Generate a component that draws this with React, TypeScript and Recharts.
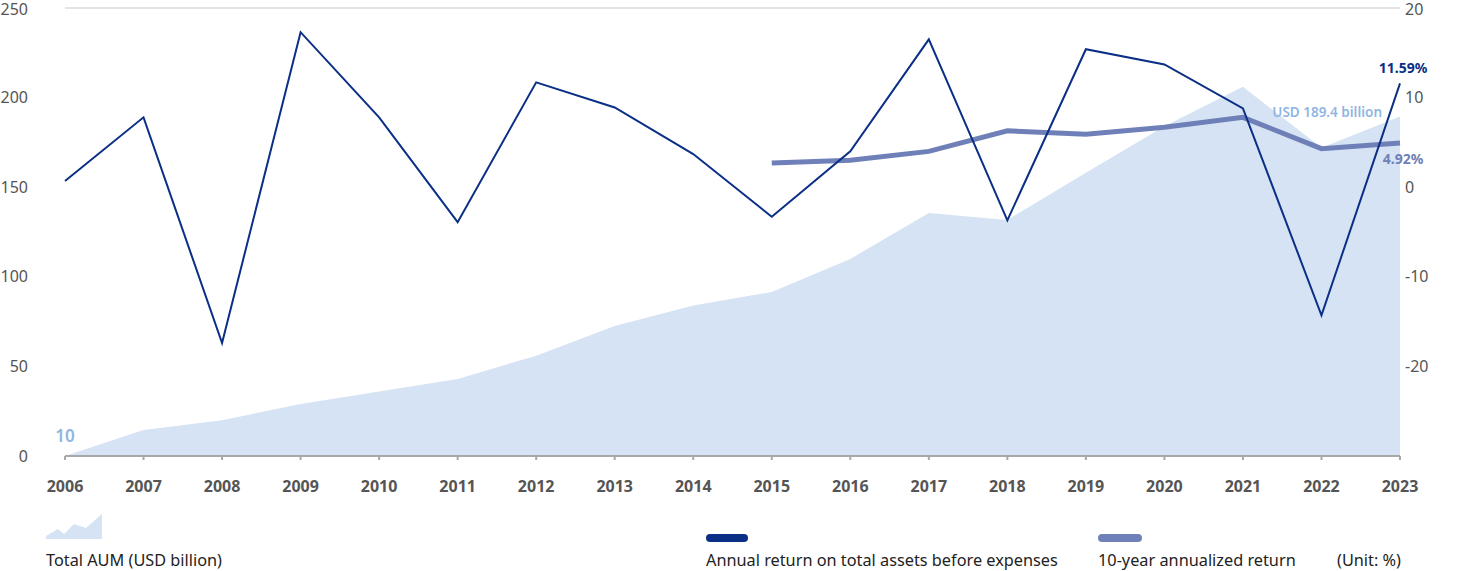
import { ComposedChart, Area, Line, XAxis, YAxis, CartesianGrid } from 'recharts'

const years = ['2006', '2007', '2008', '2009', '2010', '2011', '2012', '2013', '2014', '2015', '2016', '2017', '2018', '2019', '2020', '2021', '2022', '2023']
const totalAum = [0, 14.5, 20, 29, 36, 43, 56, 72.5, 84, 91.5, 110, 135.6, 131.7, 158, 184, 206, 172, 189.4]
const annualReturn = [0.7, 7.8, -17.4, 17.3, 7.8, -3.9, 11.7, 8.9, 3.7, -3.3, 4.0, 16.5, -3.7, 15.4, 13.7, 8.8, -14.3, 11.59]
const tenYearReturn = [null, null, null, null, null, null, null, null, null, 2.7, 3.0, 4.0, 6.3, 5.9, 6.7, 7.8, 4.3, 4.92]
const aumTicks = [0, 50, 100, 150, 200, 250]
const returnTicks = [-20, -10, 0, 10, 20]

const NAVY = '#0b2f86'
const PERIWINKLE = '#6f80b8'
const AREA_FILL = '#d6e3f4'
const AREA_LABEL = '#8fb6e3'
const FONT = '"Noto Sans", sans-serif'

const data = years.map((year, i) => ({
    year,
    aum: totalAum[i],
    annual: annualReturn[i],
    tenYear: tenYearReturn[i],
}))

const last = years.length - 1

function AumLabel(props: any) {
    const { x, y, index } = props
    if (index === 0) {
        return <text x={x} y={y - 14} textAnchor="middle" fill={AREA_LABEL} fontSize={17} fontWeight={600} fontFamily={FONT}>10</text>
    }
    if (index === last) {
        return <text x={x - 18} y={y} textAnchor="end" fill={AREA_LABEL} fontSize={13.5} fontWeight={600} fontFamily={FONT}>USD 189.4 billion</text>
    }
    return null
}

function AnnualLabel(props: any) {
    const { x, y, index } = props
    if (index !== last) return null
    return <text x={x + 3} y={y - 10} textAnchor="middle" fill={NAVY} fontSize={14} fontWeight={700} fontFamily={FONT}>11.59%</text>
}

function TenYearLabel(props: any) {
    const { x, y, index } = props
    if (index !== last) return null
    return <text x={x + 3} y={y + 21} textAnchor="middle" fill={PERIWINKLE} fontSize={14} fontWeight={700} fontFamily={FONT}>4.92%</text>
}

export default function App() {
    const legendText = { position: 'absolute' as const, top: 549, fontSize: 16.3, color: '#222', fontFamily: FONT, whiteSpace: 'nowrap' as const }
    return (
        <div style={{ position: 'relative', width: 1462, height: 571, background: '#fff' }}>
            <style>{'body{margin:0}'}</style>
            <ComposedChart width={1462} height={510} data={data} margin={{ top: 8, right: 0, bottom: 14, left: 0 }}>
                <CartesianGrid vertical={false} stroke="#c9c9c9" strokeWidth={1} />
                <XAxis
                    dataKey="year"
                    scale="point"
                    padding={{ left: 0, right: 0 }}
                    axisLine={{ stroke: '#a8a8a8', strokeWidth: 2 }}
                    tickLine={{ stroke: '#a8a8a8', strokeWidth: 2 }}
                    tickSize={4}
                    tickMargin={21}
                    height={40}
                    interval={0}
                    tick={{ fill: '#555', fontSize: 16, fontWeight: 700, fontFamily: FONT }}
                />
                <YAxis
                    yAxisId="aum"
                    orientation="left"
                    domain={[0, 250]}
                    ticks={aumTicks}
                    width={65}
                    axisLine={false}
                    tickLine={false}
                    tickSize={0}
                    tickMargin={37}
                    tick={{ fill: '#555', fontSize: 16, fontFamily: FONT }}
                />
                <YAxis
                    yAxisId="ret"
                    orientation="right"
                    domain={[-30, 20]}
                    ticks={returnTicks}
                    width={62}
                    axisLine={false}
                    tickLine={false}
                    tickSize={0}
                    tickMargin={5}
                    tick={{ fill: '#555', fontSize: 16, fontFamily: FONT, textAnchor: 'start' }}
                />
                <Area
                    yAxisId="aum"
                    dataKey="aum"
                    type="linear"
                    fill={AREA_FILL}
                    fillOpacity={1}
                    stroke="none"
                    isAnimationActive={false}
                    label={<AumLabel />}
                />
                <Line
                    yAxisId="ret"
                    dataKey="tenYear"
                    type="linear"
                    stroke={PERIWINKLE}
                    strokeWidth={5}
                    dot={false}
                    activeDot={false}
                    isAnimationActive={false}
                    label={<TenYearLabel />}
                />
                <Line
                    yAxisId="ret"
                    dataKey="annual"
                    type="linear"
                    stroke={NAVY}
                    strokeWidth={2}
                    dot={false}
                    activeDot={false}
                    isAnimationActive={false}
                    label={<AnnualLabel />}
                />
            </ComposedChart>

            <svg style={{ position: 'absolute', left: 46, top: 514 }} width={57} height={25}>
                <polygon points="0,25 0,22 12,15 18,20 28,10 40,14 56,0 56,25" fill={AREA_FILL} />
            </svg>
            <div style={{ ...legendText, left: 46 }}>Total AUM (USD billion)</div>

            <div style={{ position: 'absolute', left: 706, top: 534, width: 42, height: 8, borderRadius: 4, background: NAVY }} />
            <div style={{ ...legendText, left: 706 }}>Annual return on total assets before expenses</div>

            <div style={{ position: 'absolute', left: 1098, top: 534, width: 44, height: 8, borderRadius: 4, background: PERIWINKLE }} />
            <div style={{ ...legendText, left: 1098 }}>10-year annualized return</div>

            <div style={{ ...legendText, left: 1337 }}>(Unit: %)</div>
        </div>
    )
}
